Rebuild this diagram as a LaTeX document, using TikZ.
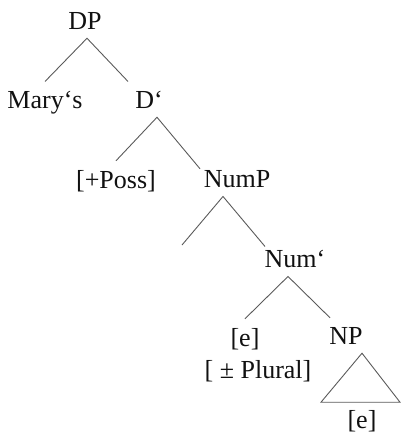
\documentclass[tikz,border=0pt]{standalone}
\usepackage{fontspec}
\setmainfont{Liberation Serif}
\usepackage{xcolor}
\definecolor{treeink}{HTML}{111111}
\definecolor{treeline}{HTML}{5A5A5A}

\begin{document}
\begin{tikzpicture}[
  x=1pt,
  y=-1pt,
  every node/.style={font=\fontsize{26}{30}\selectfont, treeink, inner sep=9pt, anchor=base},
  branch/.style={treeline, line width=0.9pt}
]
  \useasboundingbox (0,0) rectangle (400,437);

  % ---- the labels ------------------------------------------------------
  \node (dp)     at (85,29)   {DP};
  \node (marys)  at (45,108)  {Mary‘s};
  \node (dprime) at (149,108) {D‘};
  \node (poss)   at (116,188) {[+Poss]};
  \node (nump)   at (237,187) {NumP};
  \node (numbar) at (295,267) {Num‘};
  \node (eone)   at (245,346) {[e]};
  \node (np)     at (346,344) {NP};
  \node (plural) at (258,378) {[ ± Plural]};
  \node (etwo)   at (362,428) {[e]};

  % ---- the empty specifier of NumP -------------------------------------
  \coordinate (spec) at (182,245);

  % ---- the branches ----------------------------------------------------
  \draw[branch] (marys.north) -- ([xshift=2pt]dp.south) -- ([xshift=-21pt]dprime.north);
  \draw[branch] (poss.north) -- ([xshift=8pt]dprime.south)
    -- ([shift={(-37,8)}]nump.north);
  \draw[branch] (spec) -- ([xshift=-14pt]nump.south)
    -- ([shift={(-30,6)}]numbar.north);
  \draw[branch] (eone.north) -- ([xshift=-7pt]numbar.south)
    -- ([xshift=-16pt]np.north);

  % ---- the roof over NP ------------------------------------------------
  \draw[branch] ([xshift=16pt]np.south) -- ++(-41,49) -- ++(79,0) -- cycle;
\end{tikzpicture}
\end{document}
